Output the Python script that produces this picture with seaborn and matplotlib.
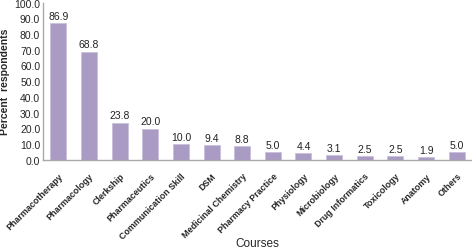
import matplotlib
matplotlib.use("Agg")
import matplotlib.pyplot as plt
import seaborn as sns
import pandas as pd

courses = ["Pharmacotherapy", "Pharmacology", "Clerkship", "Pharmaceutics",
           "Communication Skill", "DSM", "Medicinal Chemistry", "Pharmacy Practice",
           "Physiology", "Microbiology", "Drug Informatics", "Toxicology",
           "Anatomy", "Others"]
percent = [86.9, 68.8, 23.8, 20.0, 10.0, 9.4, 8.8, 5.0, 4.4, 3.1, 2.5, 2.5, 1.9, 5.0]
yticks = [0, 10, 20, 30, 40, 50, 60, 70, 80, 90, 100]

sns.set_style("white")
plt.rcParams['font.family'] = ['Liberation Sans', 'DejaVu Sans']

df = pd.DataFrame({"Course": courses, "Percent": percent})

fig = plt.figure(figsize=(4.72, 2.51), dpi=100)
ax = fig.add_axes([43/472, 90/251, (472-43)/472, (161-3.5)/251])
sns.barplot(data=df, x="Course", y="Percent", color="#a99bc4", saturation=1,
            width=0.52, edgecolor="#c9bfdb", linewidth=0.6, ax=ax)

for i, v in enumerate(percent):
    ax.text(i, v + 1.5, f"{v:.1f}", ha="center", va="bottom", fontsize=7.5, color="#222222")

ax.set_xlim(-0.5, len(courses) - 0.5)
ax.set_ylim(0, 100)
ax.set_yticks(yticks)
ax.set_yticklabels([f"{t:.1f}" for t in yticks], fontsize=7.5)
ax.set_xticks(range(len(courses)))
ax.set_xticklabels(courses, rotation=45, ha="right", rotation_mode="anchor",
                   fontsize=6.4, fontweight="bold")
ax.tick_params(axis="both", length=0, pad=2)
ax.tick_params(axis="x", pad=8)
for s in ["top", "right"]:
    ax.spines[s].set_visible(False)
for s in ["left", "bottom"]:
    ax.spines[s].set_color("#aaaaaa")
    ax.spines[s].set_linewidth(1.0)
ax.set_ylabel("Percent  respondents", fontsize=7.5, fontweight="bold", labelpad=3)
ax.set_xlabel("Courses", fontsize=8.5)
ax.xaxis.label.set_va("center")
ax.xaxis.set_label_coords(0.5, -(244 - 161) / 157.5)

fig.savefig("out.png", dpi=100)
